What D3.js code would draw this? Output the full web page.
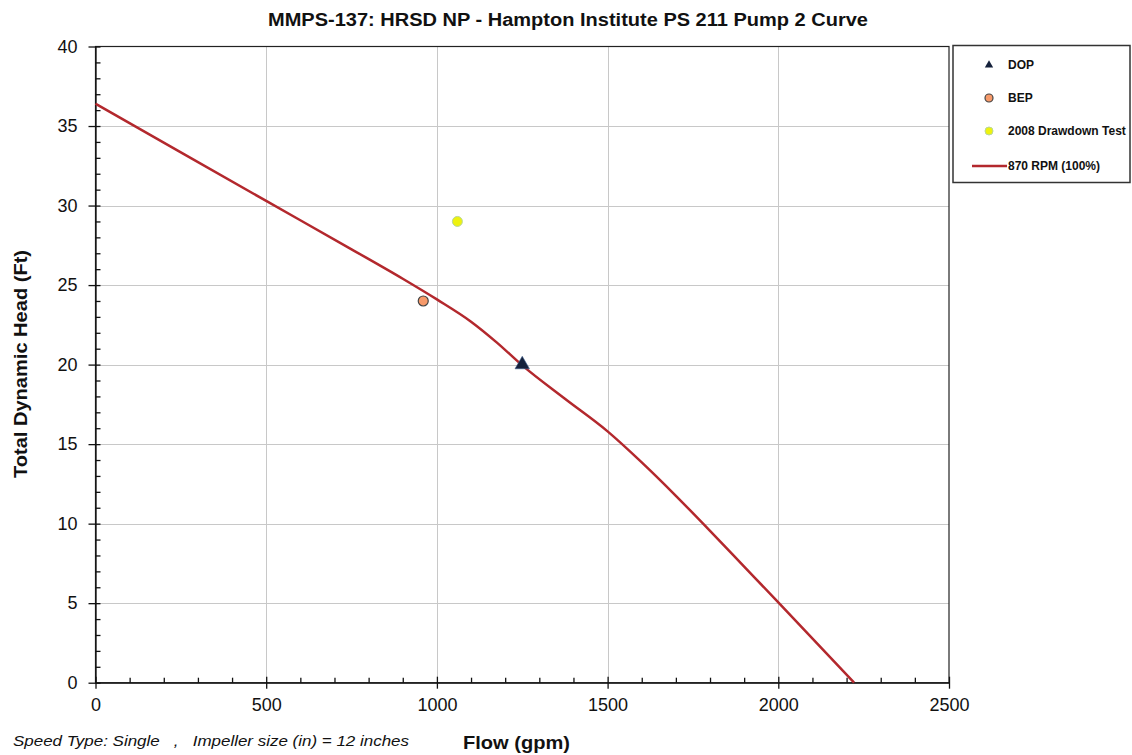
<!DOCTYPE html>
<html><head><meta charset="utf-8">
<script src="https://cdn.jsdelivr.net/npm/d3@7"></script>
<style>body{margin:0;background:#fff} text{font-family:"Liberation Sans",Arial,sans-serif}</style>
</head><body><svg id="c" width="1132" height="755"></svg>
<script>
// Pump curve (870 RPM, 100%)
const curveFlow = [0, 250, 500, 750, 900, 1000, 1100, 1175, 1250, 1375, 1500, 1600, 1700, 1800, 1900, 2000, 2222];
const curveHead = [36.4, 33.34, 30.29, 27.25, 25.4, 24.1, 22.7, 21.4, 19.95, 17.85, 15.8, 13.85, 11.75, 9.55, 7.3, 5.05, 0];
// Marker points
const pointNames = ["DOP", "BEP", "2008 Drawdown Test"];
const pointFlow = [1250, 960, 1060];
const pointHead = [20, 24, 29];
const curveName = "870 RPM (100%)";
// Ticks
const xTicks = [0, 500, 1000, 1500, 2000, 2500];
const yTicks = [0, 5, 10, 15, 20, 25, 30, 35, 40];
const xMinor = d3.range(0, 2501, 100).filter(v => v % 500 !== 0);
const yMinor = d3.range(0, 41, 1).filter(v => v % 5 !== 0);
const title = "MMPS-137: HRSD NP - Hampton Institute PS 211 Pump 2 Curve";
const xTitle = "Flow (gpm)";
const yTitle = "Total Dynamic Head (Ft)";
const note = "Speed Type: Single   ,   Impeller size (in) = 12 inches";

const svg = d3.select("#c");
const L = 95.5, R = 949, T = 46.5, B = 682.7;
const x = d3.scaleLinear([0, 2500], [L, R]);
const y = d3.scaleLinear([0, 40], [B, T]);

// gridlines
const grid = svg.append("g").attr("stroke", "#c8c8c8").attr("stroke-width", 1);
grid.selectAll(".gx").data(xTicks.slice(1, -1)).join("line")
  .attr("x1", d => Math.round(x(d)) + 0.5).attr("x2", d => Math.round(x(d)) + 0.5)
  .attr("y1", T).attr("y2", B);
grid.selectAll(".gy").data(yTicks.slice(1, -1)).join("line")
  .attr("y1", d => Math.round(y(d)) + 0.5).attr("y2", d => Math.round(y(d)) + 0.5)
  .attr("x1", L).attr("x2", R);

// frame
svg.append("rect").attr("x", L).attr("y", T).attr("width", R - L).attr("height", B - T)
  .attr("fill", "none").attr("stroke", "#222").attr("stroke-width", 1.2);

// axes
const fmt = d3.format("d");
const ax = svg.append("g").attr("transform", `translate(0,${B})`)
  .call(d3.axisBottom(x).tickValues(xTicks).tickFormat(fmt).tickSize(6).tickSizeOuter(0).tickPadding(10));
ax.selectAll(".tick line").attr("y1", -6);
svg.append("g").attr("transform", `translate(0,${B})`)
  .call(d3.axisTop(x).tickValues(xMinor).tickFormat("").tickSize(5).tickSizeOuter(0))
  .select(".domain").remove();
const ay = svg.append("g").attr("transform", `translate(${L},0)`)
  .call(d3.axisLeft(y).tickValues(yTicks).tickFormat(fmt).tickSize(7).tickSizeOuter(0).tickPadding(11));
ay.selectAll(".tick line").attr("x1", 5);
svg.append("g").attr("transform", `translate(${L},0)`)
  .call(d3.axisRight(y).tickValues(yMinor).tickFormat("").tickSize(5).tickSizeOuter(0))
  .select(".domain").remove();
svg.selectAll(".tick text").attr("font-size", 18).attr("fill", "#111")
  .style("font-family", '"Liberation Sans",Arial,sans-serif');
svg.selectAll(".domain, .tick line").attr("stroke", "#111").attr("stroke-width", 1.3);

// curve
const curveData = curveFlow.map((f, i) => [f, curveHead[i]]);
const lineGen = d3.line().x(d => x(d[0])).y(d => y(d[1])).curve(d3.curveMonotoneX);
svg.append("path").datum(curveData).attr("d", lineGen)
  .attr("fill", "none").attr("stroke", "#b3282d").attr("stroke-width", 2.5);

// markers
const tri = d3.symbol().type(d3.symbolTriangle);
function drawMarker(g, i, cx, cy, big) {
  if (i === 0) {
    g.append("path").attr("d", tri.size(big ? 90 : 30)())
      .attr("transform", `translate(${cx},${cy})`)
      .attr("fill", "#15213b").attr("stroke", big ? "#3a5a8a" : "none").attr("stroke-width", 0.6);
  } else if (i === 1) {
    g.append("circle").attr("cx", cx).attr("cy", cy).attr("r", big ? 5 : 4)
      .attr("fill", "#f79a6a").attr("stroke", "#444").attr("stroke-width", 1.2);
  } else {
    g.append("circle").attr("cx", cx).attr("cy", cy).attr("r", big ? 5 : 4)
      .attr("fill", "#eef20f").attr("stroke", "#b8d79a").attr("stroke-width", 1);
  }
}
const mk = svg.append("g");
[1, 2, 0].forEach(i => drawMarker(mk, i, x(pointFlow[i]), y(pointHead[i]), true));

// titles
svg.append("text").attr("x", 268).attr("y", 26)
  .attr("font-size", 18).attr("font-weight", "bold").attr("fill", "#111")
  .attr("textLength", 600).attr("lengthAdjust", "spacingAndGlyphs").text(title);
svg.append("text").attr("x", 463).attr("y", 749)
  .attr("font-size", 19).attr("font-weight", "bold").attr("fill", "#111")
  .attr("textLength", 107).attr("lengthAdjust", "spacingAndGlyphs").text(xTitle);
svg.append("text").attr("transform", "translate(27,478) rotate(-90)")
  .attr("font-size", 19).attr("font-weight", "bold").attr("fill", "#111")
  .attr("textLength", 228).attr("lengthAdjust", "spacingAndGlyphs").text(yTitle);
svg.append("text").attr("x", 13).attr("y", 746).attr("font-size", 15).attr("font-style", "italic")
  .attr("fill", "#111").attr("xml:space", "preserve").style("white-space", "pre")
  .attr("textLength", 396).attr("lengthAdjust", "spacingAndGlyphs").text(note);

// legend
const lg = svg.append("g");
lg.append("rect").attr("x", 953).attr("y", 45.5).attr("width", 177).attr("height", 137)
  .attr("fill", "#fff").attr("stroke", "#333").attr("stroke-width", 1.5);
const legY = [65, 98, 131, 166];
const legW = [27, 24, 117];
pointNames.forEach((n, i) => {
  drawMarker(lg, i, 989, legY[i], false);
  lg.append("text").attr("x", 1008).attr("y", legY[i] + 4).attr("font-size", 12)
    .attr("font-weight", "bold").attr("fill", "#111").text(n);
});
lg.append("line").attr("x1", 972).attr("x2", 1007).attr("y1", legY[3]).attr("y2", legY[3])
  .attr("stroke", "#b3282d").attr("stroke-width", 2.5);
lg.append("text").attr("x", 1008).attr("y", legY[3] + 4).attr("font-size", 12)
  .attr("font-weight", "bold").attr("fill", "#111").text(curveName);
</script></body></html>
